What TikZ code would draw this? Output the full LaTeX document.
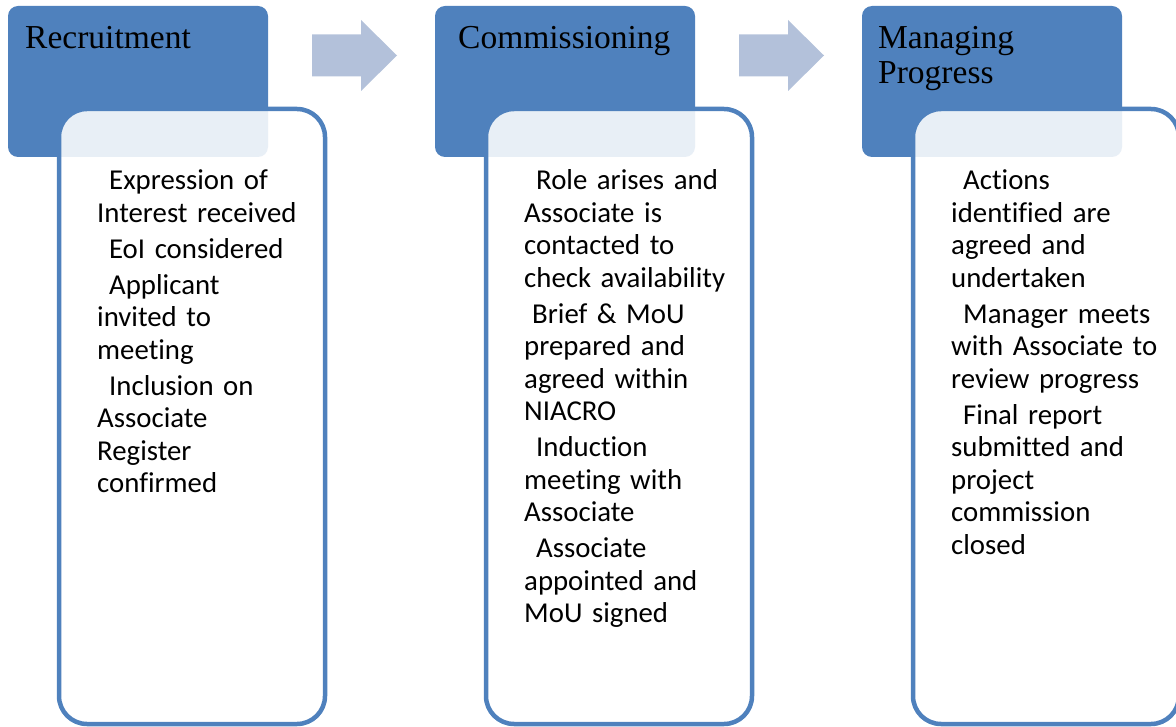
\documentclass[tikz,border=0pt]{standalone}
\usepackage{xcolor}
\usepackage{fontspec}
\setmainfont{Liberation Serif}
\newfontfamily\bodyfont[Ligatures=NoCommon]{Carlito}
\usetikzlibrary{positioning,calc}
\definecolor{accent}{RGB}{79,129,189}
\definecolor{arrowblue}{RGB}{179,193,218}
\newcommand{\stepin}{\hspace*{12pt}}

\begin{document}
\begin{tikzpicture}[x=1pt,y=-1pt,
    headbox/.style={fill=accent, rounded corners=10pt, minimum width=260pt,
      minimum height=151pt, inner sep=0pt, outer sep=0pt},
    stepbody/.style={draw=accent, line width=4.5pt, fill=white, fill opacity=0.875,
      rounded corners=28pt, minimum width=266pt, minimum height=615pt,
      inner sep=0pt, outer sep=0pt},
    titletext/.style={font=\fontsize{33.5}{35}\selectfont, text width=240pt,
      align=left, inner sep=0pt, anchor=base west},
    bodytext/.style={font=\bodyfont\fontsize{28.8}{32.5}\selectfont, text width=260pt,
      align=left, inner sep=0pt, anchor=base west},
    flowarrow/.style={fill=arrowblue}]
      \useasboundingbox (0,0) rectangle (1176,727);
      % columns: title / title shift / list of steps
      \foreach \ttl/\tx/\lines [count=\n] in {
        {Recruitment}/17/{\stepin Expression of\\Interest received\\[3.5pt]
          \stepin EoI considered\\[3.5pt]
          \stepin Applicant\\invited to\\meeting\\[3.5pt]
          \stepin Inclusion on\\Associate\\Register\\confirmed},
        {Commissioning}/23/{\stepin Role arises and\\Associate is\\contacted to\\check availability\\[3.5pt]
          \hspace*{8pt}Brief \& MoU\\prepared and\\agreed within\\NIACRO\\[3.5pt]
          \stepin Induction\\meeting with\\Associate\\[3.5pt]
          \stepin Associate\\appointed and\\MoU signed},
        {Managing\\Progress}/16/{\stepin Actions\\identified are\\agreed and\\undertaken\\[3.5pt]
          \stepin Manager meets\\with Associate to\\review progress\\[3.5pt]
          \stepin Final report\\submitted and\\project\\commission\\closed}
        } {
          \pgfmathsetmacro{\cx}{427*(\n-1)}
          % blue header tile
          \node[headbox] (head\n) at (138+\cx,81.5) {};
          % white step box over it
          \node[stepbody] (step\n) at (192+\cx,416.5) {};
          \node[titletext] (title\n) at ($(head\n.north west)+(\tx,43)$) {\ttl};
          \node[bodytext] (text\n) at ($(step\n.north west)+(38,81)$) {\lines};
        }
      % block arrows between the headers
      \foreach \n in {1,2} {
        \coordinate (arr\n) at ($(head\n.north east)+(44,49.5)$);
        \fill[flowarrow] (arr\n) ++(0,-21) -- ++(49,0) -- ++(0,-14.5) -- ++(36,35.5)
          -- ++(-36,35.5) -- ++(0,-14.5) -- ++(-49,0) -- cycle;
      }
    \end{tikzpicture}
\end{document}
